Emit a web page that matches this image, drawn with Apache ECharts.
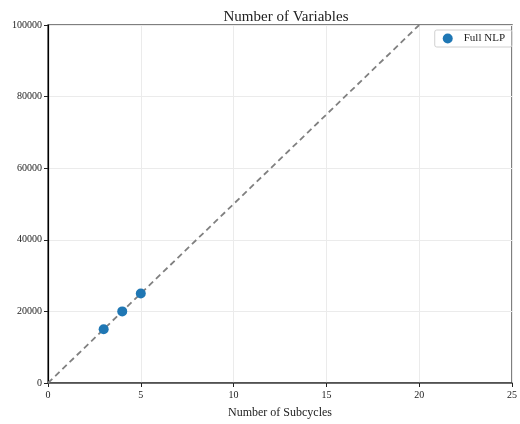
<!DOCTYPE html>
<html>
<head>
<meta charset="utf-8">
<script src="https://cdn.jsdelivr.net/npm/echarts@6/dist/echarts.min.js"></script>
<style>
  html, body { margin: 0; padding: 0; background: #fff; }
  #chart { width: 520px; height: 424px; }
</style>
</head>
<body>
<div id="chart"></div>
<script>
// Measured problem sizes
const subcycles = [3, 4, 5];
const variables = [15000, 20000, 25000];
// Linear reference trend
const trendX = [0, 20];
const trendY = [0, 100000];

const serif = '"Liberation Serif", "DejaVu Serif", serif';
const chart = echarts.init(document.getElementById('chart'), null, { renderer: 'canvas' });

chart.setOption({
  animation: false,
  backgroundColor: '#ffffff',
  title: {
    text: 'Number of Variables',
    left: 281, top: 5, textAlign: 'center',
    textStyle: { fontFamily: serif, fontSize: 15, fontWeight: 'normal', color: '#222' }
  },
  legend: {
    right: 8, top: 30,
    data: [{ name: 'Full NLP', icon: 'circle' }],
    itemWidth: 10, itemHeight: 10, itemGap: 10,
    padding: [3, 7, 3, 8],
    borderColor: '#d0d0d0', borderWidth: 1, borderRadius: 2,
    textStyle: { fontFamily: serif, fontSize: 11, color: '#222', padding: [0, 0, 0, 6] }
  },
  grid: {
    left: 48, right: 5, top: 25, bottom: 34,
    show: true, borderColor: '#555', borderWidth: 1.5
  },
  xAxis: {
    type: 'value', min: 0, max: 25, interval: 5,
    name: 'Number of Subcycles', nameLocation: 'middle', nameGap: 24,
    nameTextStyle: { fontFamily: serif, fontSize: 12, color: '#222' },
    axisLine: { show: true, lineStyle: { color: '#444', width: 1.5 } },
    axisTick: { show: true, inside: false, length: 4, lineStyle: { color: '#222' } },
    axisLabel: { fontFamily: serif, fontSize: 10, color: '#222', margin: 7 },
    splitLine: { show: true, lineStyle: { color: '#ebebeb', width: 1 } }
  },
  yAxis: {
    type: 'value', min: 0, max: 100000, interval: 20000,
    axisLine: { show: true, lineStyle: { color: '#000', width: 1.2 } },
    axisTick: { show: true, inside: false, length: 4, lineStyle: { color: '#222' } },
    axisLabel: { fontFamily: serif, fontSize: 10, color: '#222', margin: 6,
      formatter: v => String(v) },
    splitLine: { show: true, lineStyle: { color: '#ebebeb', width: 1 } }
  },
  series: [
    {
      name: 'trend',
      type: 'line',
      data: trendX.map((x, i) => [x, trendY[i]]),
      showSymbol: false,
      silent: true,
      lineStyle: { color: '#808080', width: 1.8, type: [6, 4] },
      z: 2
    },
    {
      name: 'Full NLP',
      type: 'scatter',
      data: subcycles.map((x, i) => [x, variables[i]]),
      symbol: 'circle',
      symbolSize: 10,
      itemStyle: { color: '#1f77b4', opacity: 1 },
      z: 3
    }
  ]
});
</script>
</body>
</html>
